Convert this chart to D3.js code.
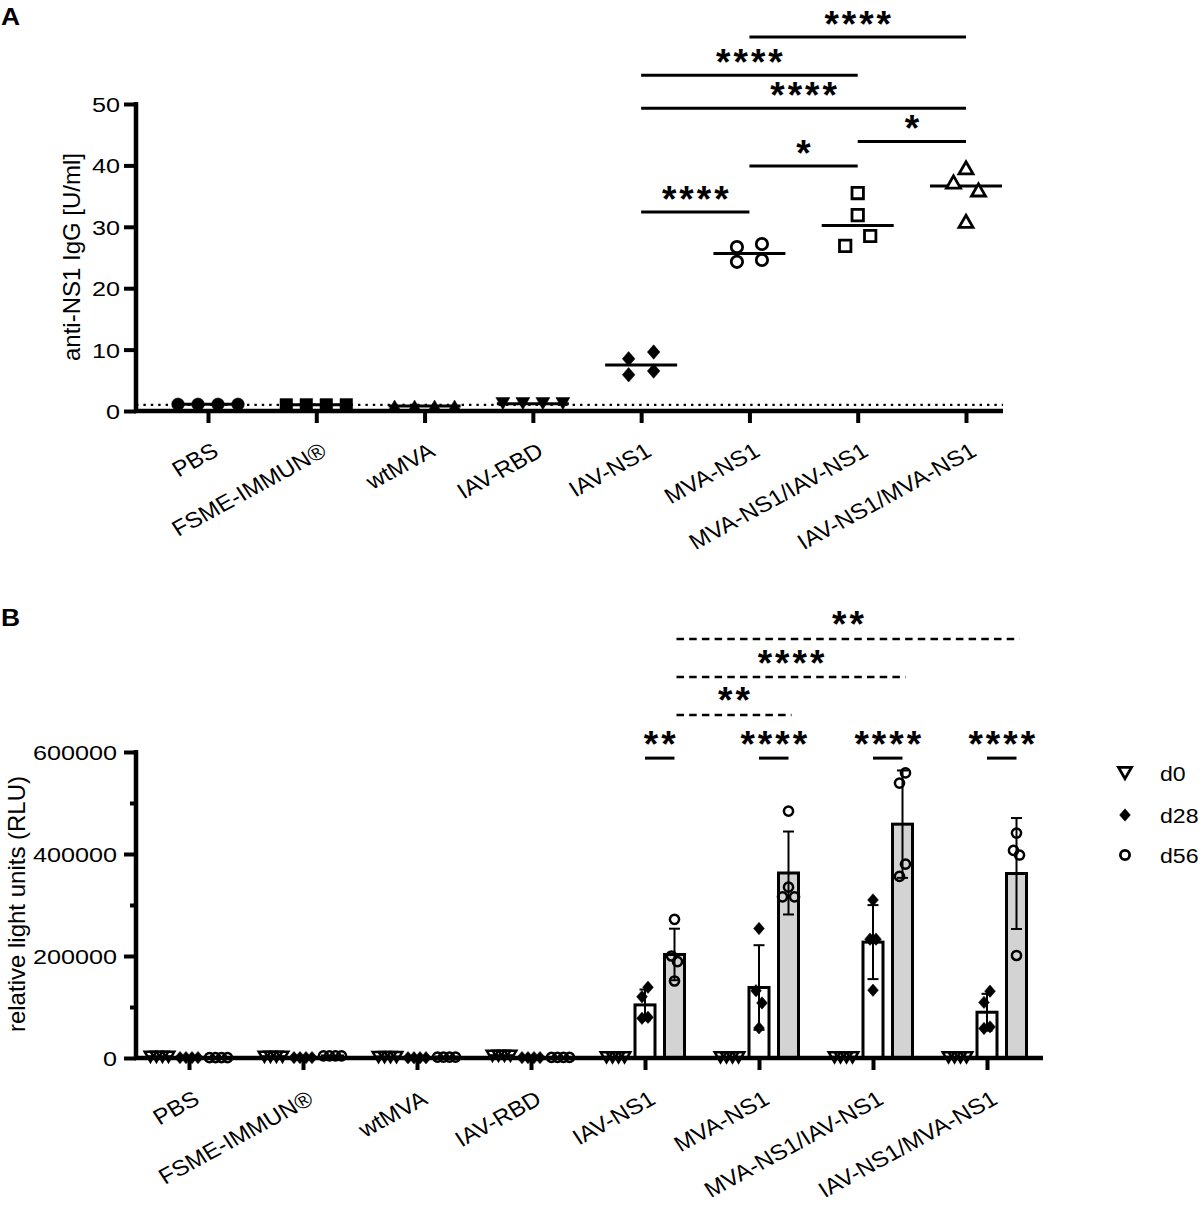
<!DOCTYPE html>
<html><head><meta charset="utf-8">
<script src="https://cdn.jsdelivr.net/npm/d3@7"></script>
<style>body{margin:0;background:#fff} svg text{font-family:"Liberation Sans",Arial,Helvetica,sans-serif;fill:#000}</style>
</head><body><svg id="c" width="1203" height="1207"></svg>
<script>
// ---------------- DATA ----------------
const categories = ["PBS","FSME-IMMUN®","wtMVA","IAV-RBD","IAV-NS1","MVA-NS1","MVA-NS1/IAV-NS1","IAV-NS1/MVA-NS1"];

// Panel A: anti-NS1 IgG [U/ml], four animals per group
const igPBS   = [1.1, 1.1, 1.1, 1.1];
const igFSME  = [1.0, 1.0, 1.0, 1.0];
const igWtMVA = [0.8, 0.8, 0.8, 0.8];
const igIAVRBD= [1.2, 1.2, 1.2, 1.2];
const igIAVNS1= [8.5, 9.6, 5.9, 6.5];
const igMVANS1= [26.7, 27.2, 24.3, 24.6];
const igMVAIAV= [35.5, 31.9, 26.9, 28.5];
const igIAVMVA= [39.6, 37.3, 36.0, 30.9];
const igGroups = [igPBS, igFSME, igWtMVA, igIAVRBD, igIAVNS1, igMVANS1, igMVAIAV, igIAVMVA];
const igSymbols = ["circle","square","triUp","triDown","diamond","circle","square","triUp"];
const igFilled  = [true,true,true,true,true,false,false,false];
const igTicks = [0,10,20,30,40,50];
const igLimit = 1;   // dotted detection-limit line
const sigA = [
  {a:"IAV-NS1", b:"MVA-NS1", level:32.4, label:"****"},
  {a:"MVA-NS1", b:"MVA-NS1/IAV-NS1", level:39.9, label:"*"},
  {a:"MVA-NS1/IAV-NS1", b:"IAV-NS1/MVA-NS1", level:43.9, label:"*"},
  {a:"IAV-NS1", b:"IAV-NS1/MVA-NS1", level:49.3, label:"****"},
  {a:"IAV-NS1", b:"MVA-NS1/IAV-NS1", level:54.7, label:"****"},
  {a:"MVA-NS1", b:"IAV-NS1/MVA-NS1", level:60.9, label:"****"}
];

// Panel B: relative light units, days 0 / 28 / 56
const days = ["d0","d28","d56"];
const rluD0 = [
  [2500,2500,2500,2500],[2500,2500,2500,2500],[2000,2000,2000,2000],[4500,4500,4500,4500],
  [1500,1500,1500,1500],[1500,1500,1500,1500],[1500,1500,1500,1500],[1500,1500,1500,1500]
];
const rluD28 = [
  [800,800,800,800],[800,800,800,800],[600,600,600,600],[800,800,800,800],
  [120200,138600,77800,79800],[254000,132000,108000,59000],[310000,233000,233000,133000],[109000,131000,58000,61000]
];
const rluD56 = [
  [700,700,700,700],[4000,4000,4000,4000],[1800,1800,1800,1800],[1200,1200,1200,1200],
  [272000,200000,189000,151000],[484000,316000,335000,316000],[539000,559000,356000,380000],[441000,407000,398000,201000]
];
const rluTicks = [0,100000,200000,300000,400000,500000,600000];
const rluTickLabels = ["0","","200000","","400000","","600000"];
const sigB = [
  {a:["IAV-NS1","d28"], b:["IAV-NS1","d56"], level:588000, label:"**", dashed:false},
  {a:["MVA-NS1","d28"], b:["MVA-NS1","d56"], level:588000, label:"****", dashed:false},
  {a:["MVA-NS1/IAV-NS1","d28"], b:["MVA-NS1/IAV-NS1","d56"], level:588000, label:"****", dashed:false},
  {a:["IAV-NS1/MVA-NS1","d28"], b:["IAV-NS1/MVA-NS1","d56"], level:588000, label:"****", dashed:false},
  {a:["IAV-NS1","d56"], b:["MVA-NS1","d56"], level:672600, label:"**", dashed:true},
  {a:["IAV-NS1","d56"], b:["MVA-NS1/IAV-NS1","d56"], level:747000, label:"****", dashed:true},
  {a:["IAV-NS1","d56"], b:["IAV-NS1/MVA-NS1","d56"], level:821700, label:"**", dashed:true}
];

// ---------------- HELPERS ----------------
const svg = d3.select("#c");
const SX = 1.2; // horizontal stretch of the lettering in the original figure

const symbolTypes = {
  circle:{draw(c,r){c.moveTo(r,0);c.arc(0,0,r,0,2*Math.PI);c.closePath();}},
  square:{draw(c,r){c.rect(-r,-r,2*r,2*r);}},
  triUp:{draw(c,r){const h=r*1.732;c.moveTo(0,-h/2);c.lineTo(r,h/2);c.lineTo(-r,h/2);c.closePath();}},
  triDown:{draw(c,r){const h=r*1.732;c.moveTo(0,h/2);c.lineTo(r,-h/2);c.lineTo(-r,-h/2);c.closePath();}},
  diamond:{draw(c,r){c.moveTo(0,-r*1.15);c.lineTo(r,0);c.lineTo(0,r*1.15);c.lineTo(-r,0);c.closePath();}}
};
const sym = (t,r) => d3.symbol().type(symbolTypes[t]).size(r)();

function slots(vals, y, thr){
  const idx = vals.map((v,i)=>i).sort((a,b)=>vals[a]-vals[b]);
  const clusters=[]; let cur=[idx[0]];
  for(let k=1;k<idx.length;k++){
    if(Math.abs(y(vals[idx[k]])-y(vals[idx[k-1]]))<thr) cur.push(idx[k]);
    else {clusters.push(cur);cur=[idx[k]];}
  }
  clusters.push(cur);
  const out = vals.map(v=>({v,slot:0,n:1}));
  clusters.forEach(c=>{c.sort((a,b)=>a-b);c.forEach((i,j)=>{out[i].slot=j-(c.length-1)/2;out[i].n=c.length;});});
  return out;
}

function stars(g, x, yLine, label){
  const fs=37, ls=3;
  g.append("text").attr("x",x+ls/2).attr("y",yLine+1)
    .attr("text-anchor","middle").attr("font-size",fs).attr("font-weight","bold")
    .attr("letter-spacing",ls).text(label);
}

function styleAxis(g){
  g.selectAll("path.domain").remove();
  g.selectAll(".tick line").attr("stroke","#000").attr("stroke-width",4);
}

// ---------------- PANEL A ----------------
const A = {left:136, right:1003, top:104, base:411};
const xA = d3.scalePoint().domain(categories).range([208,966]);
const yA = d3.scaleLinear().domain([0,50]).range([A.base,A.top]);
const gA = svg.append("g");

gA.append("text").attr("x",1).attr("y",25).attr("font-size",24).attr("font-weight","bold")
  .attr("transform","translate(1,25) scale(1.1,1) translate(-1,-25)").text("A");

// dotted limit line
gA.append("line").attr("x1",A.left).attr("x2",A.right).attr("y1",yA(igLimit)).attr("y2",yA(igLimit))
  .attr("stroke","#000").attr("stroke-width",2.4).attr("stroke-dasharray","2.4,5");

// y axis
const yAxA = gA.append("g").attr("transform",`translate(${A.left},0)`)
  .call(d3.axisLeft(yA).tickValues(igTicks).tickSize(12).tickPadding(4));
styleAxis(yAxA);
yAxA.selectAll(".tick text").attr("font-size",21).attr("x",0).attr("dy","0.36em")
  .attr("transform","translate(-16,0) scale("+SX+",1)");
gA.append("line").attr("x1",A.left).attr("x2",A.left).attr("y1",A.top-2).attr("y2",A.base+2)
  .attr("stroke","#000").attr("stroke-width",4.5);
gA.append("text").attr("transform",`translate(80,257) rotate(-90)`).attr("text-anchor","middle")
  .attr("font-size",24).text("anti-NS1 IgG [U/ml]");

// x axis
const xAxA = gA.append("g").attr("transform",`translate(0,${A.base})`)
  .call(d3.axisBottom(xA).tickSize(12).tickFormat(""));
styleAxis(xAxA);
gA.append("line").attr("x1",A.left-2).attr("x2",A.right).attr("y1",A.base).attr("y2",A.base)
  .attr("stroke","#000").attr("stroke-width",4.5);
gA.selectAll("text.catA").data(categories).join("text").attr("class","catA")
  .attr("text-anchor","end").attr("font-size",22)
  .attr("transform",d=>`translate(${xA(d)+12},455) scale(1.1,1) rotate(-31)`).text(d=>d);

// points and medians
igGroups.forEach((vals,gi)=>{
  const cx = xA(categories[gi]);
  const med = d3.median(vals);
  gA.append("line").attr("x1",cx-36).attr("x2",cx+36).attr("y1",yA(med)).attr("y2",yA(med))
    .attr("stroke","#000").attr("stroke-width",3);
  const pts = slots(vals, yA, 11);
  const filled = igFilled[gi];
  const r = filled ? (igSymbols[gi].startsWith("tri")?7:6.3) : (igSymbols[gi]==="triUp"?7:5.7);
  gA.selectAll(null).data(pts).join("path")
    .attr("d",sym(igSymbols[gi],r))
    .attr("transform",p=>`translate(${cx+p.slot*(p.n>2?20:25)},${yA(p.v)})`)
    .attr("fill",filled?"#000":"#fff").attr("stroke","#000")
    .attr("stroke-width",filled?0.5:2.8).attr("stroke-linejoin","miter");
});

// significance brackets A
sigA.forEach(s=>{
  const y = yA(s.level);
  gA.append("line").attr("x1",xA(s.a)).attr("x2",xA(s.b)).attr("y1",y).attr("y2",y)
    .attr("stroke","#000").attr("stroke-width",3);
  stars(gA,(xA(s.a)+xA(s.b))/2,y-19.5+18,s.label);
});

// ---------------- PANEL B ----------------
const B = {left:136, right:1043, top:752, base:1058};
const xB = d3.scalePoint().domain(categories).range([189,987]);
const xDay = d3.scalePoint().domain(days).range([-29.5,29.5]);
const yB = d3.scaleLinear().domain([0,600000]).range([B.base,B.top]);
const gB = svg.append("g");

gB.append("text").attr("x",1).attr("y",626).attr("font-size",24).attr("font-weight","bold")
  .attr("transform","translate(1,626) scale(1.1,1) translate(-1,-626)").text("B");

const dayData = [rluD0, rluD28, rluD56];
const dayFill = ["#fff","#fff","#d3d3d3"];
const daySym = ["triDown","diamond","circle"];
const daySymR = [5.8,5.4,4.6];
const daySymFilled = [false,true,false];

// bars
categories.forEach((c,gi)=>{
  days.forEach((d,di)=>{
    const vals = dayData[di][gi];
    const m = d3.mean(vals);
    const cx = xB(c)+xDay(d);
    gB.append("rect").attr("x",cx-10).attr("width",20).attr("y",yB(m)).attr("height",B.base-yB(m))
      .attr("fill",dayFill[di]).attr("stroke","#000").attr("stroke-width",3);
  });
});

// y axis B
const yAxB = gB.append("g").attr("transform",`translate(${B.left},0)`)
  .call(d3.axisLeft(yB).tickValues(rluTicks).tickSize(12).tickPadding(4)
    .tickFormat((d,i)=>rluTickLabels[i]));
styleAxis(yAxB);
yAxB.selectAll(".tick").filter((d,i)=>rluTickLabels[i]==="").select("line").attr("x2",-6);
yAxB.selectAll(".tick text").attr("font-size",21).attr("x",0).attr("dy","0.36em")
  .attr("transform","translate(-19,0) scale("+SX+",1)");
gB.append("line").attr("x1",B.left).attr("x2",B.left).attr("y1",B.top-2).attr("y2",B.base+2)
  .attr("stroke","#000").attr("stroke-width",4.5);
gB.append("text").attr("transform",`translate(25,904) rotate(-90)`).attr("text-anchor","middle")
  .attr("font-size",24).text("relative light units (RLU)");

// x axis B
const xAxB = gB.append("g").attr("transform",`translate(0,${B.base})`)
  .call(d3.axisBottom(xB).tickSize(12).tickFormat(""));
styleAxis(xAxB);
gB.append("line").attr("x1",B.left-2).attr("x2",B.right).attr("y1",B.base).attr("y2",B.base)
  .attr("stroke","#000").attr("stroke-width",4.5);
gB.selectAll("text.catB").data(categories).join("text").attr("class","catB")
  .attr("text-anchor","end").attr("font-size",22)
  .attr("transform",d=>`translate(${xB(d)+12},1103) scale(1.1,1) rotate(-31)`).text(d=>d);

// error bars and points
categories.forEach((c,gi)=>{
  days.forEach((d,di)=>{
    const vals = dayData[di][gi];
    const m = d3.mean(vals), sd = d3.deviation(vals);
    const cx = xB(c)+xDay(d);
    if(sd>0){
      const y1=yB(m+sd), y0=yB(Math.max(0,m-sd));
      gB.append("line").attr("x1",cx).attr("x2",cx).attr("y1",y1).attr("y2",y0).attr("stroke","#000").attr("stroke-width",2);
      [y1,y0].forEach(yy=>gB.append("line").attr("x1",cx-5.5).attr("x2",cx+5.5).attr("y1",yy).attr("y2",yy).attr("stroke","#000").attr("stroke-width",2));
    }
    const pts = slots(vals, yB, 13);
    gB.selectAll(null).data(pts).join("path")
      .attr("d",sym(daySym[di],daySymR[di]))
      .attr("transform",p=>`translate(${cx+p.slot*6},${yB(p.v)})`)
      .attr("fill",daySymFilled[di]?"#000":"none").attr("stroke","#000")
      .attr("stroke-width",daySymFilled[di]?0.5:2.5);
  });
});

// significance brackets B
sigB.forEach(s=>{
  const y = yB(s.level);
  const x1 = xB(s.a[0])+xDay(s.a[1]), x2 = xB(s.b[0])+xDay(s.b[1]);
  const xa = s.dashed? x1+2 : x1, xb = s.dashed? x2+3 : x2;
  gB.append("line").attr("x1",xa).attr("x2",xb).attr("y1",y).attr("y2",y)
    .attr("stroke","#000").attr("stroke-width",s.dashed?2.4:3)
    .attr("stroke-dasharray",s.dashed?"7.5,5.2":null);
  stars(gB,(xa+xb)/2,y-20.5+18,s.label);
});

// legend B
const legY = [773,815,855];
days.forEach((d,di)=>{
  gB.append("path").attr("d",sym(daySym[di],di===0?6.5:daySymR[di]))
    .attr("transform",`translate(1125,${legY[di]})`)
    .attr("fill",daySymFilled[di]?"#000":"none").attr("stroke","#000")
    .attr("stroke-width",daySymFilled[di]?0.5:2.8);
  gB.append("text").attr("x",0).attr("y",0).attr("dy","0.36em").attr("font-size",21)
    .attr("transform",`translate(1160,${legY[di]}) scale(1.1,1)`).text(d);
});
</script></body></html>
